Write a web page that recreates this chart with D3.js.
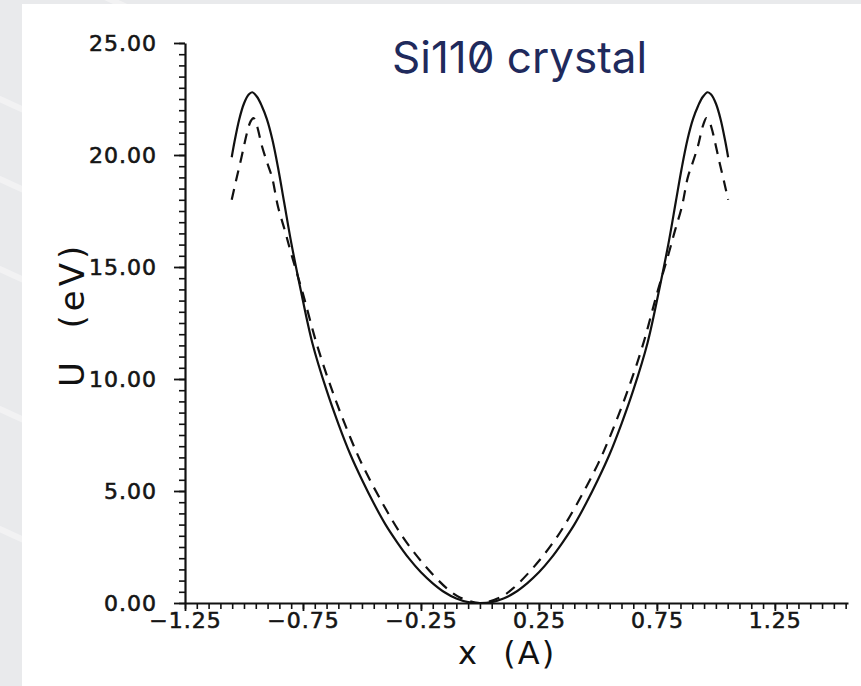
<!doctype html>

<html lang="en">
<head>
  <meta charset="utf-8">
  <title>Si110 crystal</title>
  <style>
    body { margin: 0; background: #e9eaec; }
    .tick text { font-family: 'DejaVu Sans', sans-serif; font-size: 22px; letter-spacing: 1px; fill: #151515; stroke: #151515; stroke-width: 0.6px; }
    .axis path, .axis line { stroke: #111; }
  </style>
</head>
<body>
    <div id="vis"></div>

    <script src="https://cdn.jsdelivr.net/npm/d3@7/dist/d3.min.js"></script>

    <script>
        // solid curve: x (A), U (eV)
        const solidX = [-1.052, -1.04, -1.02, -1.00, -0.98, -0.965, -0.945, -0.925, -0.903, -0.88, -0.855, -0.83, -0.80, -0.76, -0.71, -0.65, -0.60, -0.55, -0.50, -0.45, -0.40, -0.35, -0.30, -0.25, -0.20, -0.15, -0.10, -0.05, 0.00,
                        0.05, 0.10, 0.15, 0.20, 0.25, 0.30, 0.35, 0.40, 0.45, 0.50, 0.55, 0.60, 0.65, 0.71, 0.76, 0.80, 0.83, 0.855, 0.88, 0.903, 0.925, 0.945, 0.965, 0.98, 1.00, 1.02, 1.04, 1.052];
        const solidU = [19.9, 20.6, 21.6, 22.3, 22.7, 22.8, 22.6, 22.2, 21.6, 20.7, 19.4, 17.9, 16.1, 14.0, 11.6, 9.5, 8.0, 6.65, 5.5, 4.45, 3.5, 2.7, 1.98, 1.37, 0.88, 0.48, 0.2, 0.04, 0.0,
                        0.04, 0.2, 0.48, 0.88, 1.37, 1.98, 2.7, 3.5, 4.45, 5.5, 6.65, 8.0, 9.5, 11.6, 14.0, 16.1, 17.9, 19.4, 20.7, 21.6, 22.2, 22.6, 22.8, 22.7, 22.3, 21.6, 20.6, 19.9];

        // dashed curve
        const dashX = [-1.052, -1.035, -1.017, -1.00, -0.987, -0.972, -0.96, -0.945, -0.924, -0.90, -0.881, -0.856, -0.826, -0.80, -0.75, -0.69, -0.62, -0.55, -0.50, -0.41, -0.33, -0.24, -0.14, -0.085, 0.00,
                       0.085, 0.14, 0.24, 0.33, 0.41, 0.50, 0.55, 0.62, 0.69, 0.75, 0.80, 0.826, 0.856, 0.881, 0.90, 0.924, 0.945, 0.96, 0.972, 0.987, 1.00, 1.017, 1.035, 1.052];
        const dashU = [18.0, 18.8, 19.6, 20.4, 21.0, 21.5, 21.65, 21.3, 20.4, 19.6, 19.0, 17.7, 16.6, 15.6, 13.8, 11.5, 9.3, 7.4, 6.2, 4.4, 3.0, 1.75, 0.65, 0.25, 0.0,
                       0.25, 0.65, 1.75, 3.0, 4.4, 6.2, 7.4, 9.3, 11.5, 13.8, 15.6, 16.6, 17.7, 19.0, 19.6, 20.4, 21.3, 21.65, 21.5, 21.0, 20.4, 19.6, 18.8, 18.0];

        const xMajor = [-1.25, -0.75, -0.25, 0.25, 0.75, 1.25];
        const yMajor = [0, 5, 10, 15, 20, 25];
        const xDomain = [-1.25, 1.56];
        const yDomain = [0, 25];

        const w = 861;
        const h = 686;

        const svg = d3.select('#vis')
            .append('svg')
                .attr('width', w)
                .attr('height', h);

        // grey page with faint streaks, white panel on top
        svg.append('rect')
            .attr('width', w)
            .attr('height', h)
            .attr('fill', '#e9eaec');

        [-60, 90, 170, 260, 400, 520].forEach(c => {
            svg.append('line')
                .attr('x1', -20).attr('y1', c)
                .attr('x2', 900).attr('y2', c + 420)
                .attr('stroke', '#f6f6f7')
                .attr('stroke-width', 6)
                .attr('opacity', 0.7);
        });

        svg.append('rect')
            .attr('x', 22)
            .attr('y', 4)
            .attr('width', w - 22)
            .attr('height', h - 4)
            .attr('fill', '#ffffff');

        const x = d3.scaleLinear()
            .domain(xDomain)
            .range([185, 848]);

        const y = d3.scaleLinear()
            .domain(yDomain)
            .range([603, 43]);

        const xMinor = d3.range(0, 57).map(i => -1.25 + i * 0.05);
        const yMinor = d3.range(0, 51).map(i => i * 0.5);
        const fmt = d3.format('.2f');

        // minor ticks
        svg.append('g')
            .attr('class', 'axis')
            .attr('transform', 'translate(0, 603)')
            .call(d3.axisBottom(x).tickValues(xMinor).tickSize(6).tickFormat(''))
            .call(g => g.selectAll('line').attr('stroke-width', 1.6))
            .call(g => g.select('.domain').remove());

        svg.append('g')
            .attr('class', 'axis')
            .attr('transform', 'translate(185, 0)')
            .call(d3.axisLeft(y).tickValues(yMinor).tickSize(6).tickFormat(''))
            .call(g => g.selectAll('line').attr('stroke-width', 1.6))
            .call(g => g.select('.domain').remove());

        // major ticks + labels
        svg.append('g')
            .attr('class', 'axis')
            .attr('transform', 'translate(0, 603)')
            .call(d3.axisBottom(x).tickValues(xMajor).tickSize(8).tickSizeOuter(0).tickPadding(1).tickFormat(fmt))
            .call(g => g.selectAll('line').attr('stroke-width', 1.8))
            .call(g => g.select('.domain').attr('stroke-width', 2.2));

        svg.append('g')
            .attr('class', 'axis')
            .attr('transform', 'translate(185, 0)')
            .call(d3.axisLeft(y).tickValues(yMajor).tickSize(11).tickSizeOuter(0).tickPadding(17).tickFormat(fmt))
            .call(g => g.selectAll('line').attr('stroke-width', 1.8))
            .call(g => g.select('.domain').attr('stroke-width', 2.2));

        const line = d3.line()
            .x(d => x(d[0]))
            .y(d => y(d[1]))
            .curve(d3.curveCatmullRom);

        svg.append('path')
            .datum(solidX.map((v, i) => [v, solidU[i]]))
            .attr('d', line)
            .attr('fill', 'none')
            .attr('stroke', '#111')
            .attr('stroke-width', 2.2);

        svg.append('path')
            .datum(dashX.map((v, i) => [v, dashU[i]]))
            .attr('d', line)
            .attr('fill', 'none')
            .attr('stroke', '#111')
            .attr('stroke-width', 2.2)
            .attr('stroke-dasharray', '11,8');

        // axis titles
        svg.append('text')
            .attr('x', 458)
            .attr('y', 664)
            .style('font-family', "'DejaVu Sans', sans-serif")
            .style('font-size', '32px')
            .style('letter-spacing', '2px')
            .style('white-space', 'pre')
            .attr('fill', '#111')
            .text('x  (A)');

        svg.append('text')
            .attr('transform', 'translate(84, 387) rotate(-90)')
            .style('font-family', "'DejaVu Sans', sans-serif")
            .style('font-size', '34px')
            .style('letter-spacing', '4px')
            .style('white-space', 'pre')
            .attr('fill', '#111')
            .text('U  (eV)');

        svg.append('text')
            .attr('x', 392)
            .attr('y', 73)
            .style('font-family', 'Inter, sans-serif')
            .style('font-size', '44px')
            .style('font-feature-settings', "'zero' 1")
            .attr('fill', '#1f2a5c')
            .text('Si110 crystal');
    </script>
</body>
</html>
